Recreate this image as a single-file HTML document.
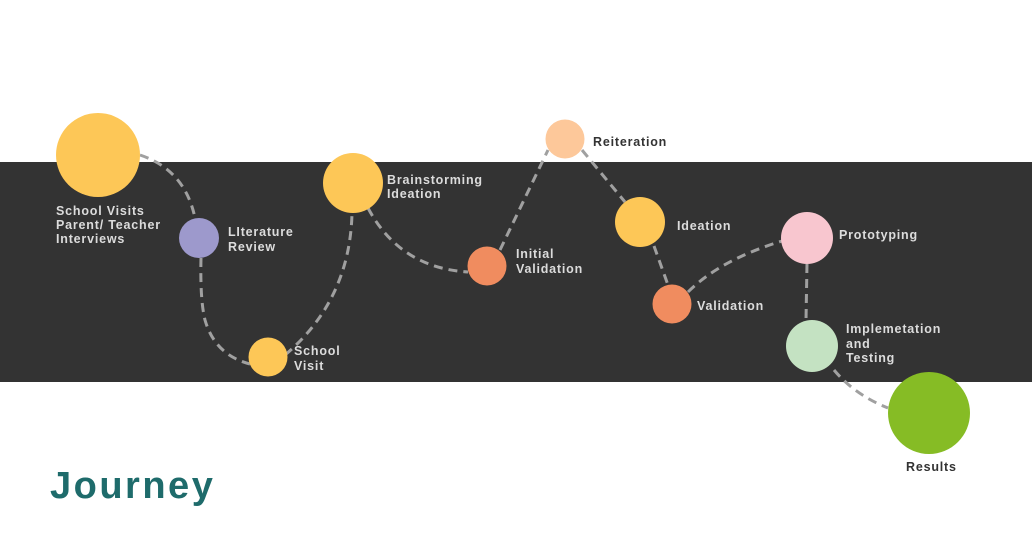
<!DOCTYPE html>
<html><head><meta charset="utf-8"><style>
html,body{margin:0;padding:0;background:#fff;}
svg{display:block}
text{font-family:"Liberation Sans",sans-serif;font-weight:bold;font-size:12.5px;letter-spacing:0.8px;fill:#dcdcdc}
.dk{fill:#333}
</style></head><body>
<svg width="1032" height="542" viewBox="0 0 1032 542">
<rect x="0" y="0" width="1032" height="542" fill="#fff"/>
<rect x="0" y="162" width="1032" height="220" fill="#333333"/>
<g fill="none" stroke="#a0a0a0" stroke-width="3" stroke-dasharray="9 6">
<path d="M140 155 Q185 170 195 218"/>
<path d="M201 258 Q200 300 205 320 Q215 355 250 364"/>
<path d="M285 355 Q350 300 352 213"/>
<path d="M368 208 Q400 268 468 272"/>
<path d="M500 250 L548 150"/>
<path d="M582 150 L625 202"/>
<path d="M654 246 L668 285"/>
<path d="M688 292 Q720 260 782 241"/>
<path d="M807 264 L806 320"/>
<path d="M834 370 Q855 395 888 408"/>
</g>
<circle cx="98" cy="155" r="42" fill="#FDC757"/>
<circle cx="199" cy="238" r="20" fill="#9D99CC"/>
<circle cx="268" cy="357" r="19.5" fill="#FDC757"/>
<circle cx="353" cy="183" r="30" fill="#FDC757"/>
<circle cx="487" cy="266" r="19.5" fill="#F08C5F"/>
<circle cx="565" cy="139" r="19.5" fill="#FDC89A"/>
<circle cx="640" cy="222" r="25" fill="#FDC757"/>
<circle cx="672" cy="304" r="19.5" fill="#F08C5F"/>
<circle cx="807" cy="238" r="26" fill="#F8C6CF"/>
<circle cx="812" cy="346" r="26" fill="#C4E2C2"/>
<circle cx="929" cy="413" r="41" fill="#86BC25"/>
<text x="56" y="215">School Visits</text>
<text x="56" y="229">Parent/ Teacher</text>
<text x="56" y="243">Interviews</text>
<text x="228" y="236">LIterature</text>
<text x="228" y="251">Review</text>
<text x="294" y="355">School</text>
<text x="294" y="370">Visit</text>
<text x="387" y="184">Brainstorming</text>
<text x="387" y="198">Ideation</text>
<text x="516" y="258">Initial</text>
<text x="516" y="273">Validation</text>
<text x="593" y="146" class="dk">Reiteration</text>
<text x="677" y="230">Ideation</text>
<text x="697" y="310">Validation</text>
<text x="839" y="239">Prototyping</text>
<text x="846" y="333">Implemetation</text>
<text x="846" y="348">and</text>
<text x="846" y="362">Testing</text>
<text x="906" y="471" class="dk">Results</text>
<text x="50" y="498" style="font-size:38px;fill:#1E6B6B;letter-spacing:2.5px">Journey</text>
</svg>
</body></html>
